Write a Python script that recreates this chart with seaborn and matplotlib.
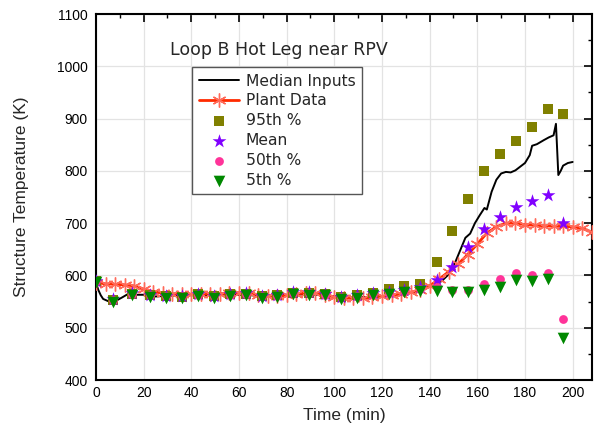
import matplotlib
matplotlib.use("Agg")
import matplotlib.pyplot as plt
import seaborn as sns
import numpy as np
from matplotlib.ticker import MultipleLocator

# ---------------- data ----------------
median_t = [0, 1, 2, 3, 5, 7, 9, 11, 14, 17, 20, 22, 26, 30, 35, 40, 50, 60, 70, 80, 90,
            100, 110, 120, 125, 130, 135, 140, 145, 148, 151, 153, 155, 157, 159, 161,
            163, 164, 166, 168, 170, 172, 174, 176, 178, 180, 182, 183, 185, 188, 190,
            192, 193, 194, 195, 196, 198, 200]
median_T = [586, 572, 562, 555, 551, 550, 553, 558, 566, 563, 563, 559, 560, 561, 562,
            562, 562, 563, 561, 563, 564, 560, 558, 560, 563, 566, 570, 578, 589, 602,
            628, 650, 672, 680, 700, 715, 729, 726, 760, 783, 795, 798, 797, 801, 808,
            815, 830, 848, 851, 859, 864, 868, 890, 792, 800, 810, 815, 817]

plant_t = list(range(0, 209, 4))
plant_T = [586, 584, 583, 582, 580, 574, 569, 566, 565, 564, 564, 564, 565, 565, 566,
           567, 566, 563, 561, 560, 562, 565, 566, 566, 563, 559, 557, 556, 556, 558,
           560, 562, 565, 568, 572, 580, 593, 607, 622, 640, 660, 681, 693, 700, 700,
           697, 696, 695, 694, 694, 693, 690, 683]

pct_t = [0, 7.0, 15.0, 22.8, 29.5, 36.1, 42.8, 49.5, 56.1, 62.8, 69.5, 76.1, 82.8, 89.5,
         96.1, 102.8, 109.4, 116.1, 122.8, 129.4, 136.1, 143.0, 149.5, 156.1, 162.8,
         169.5, 176.1, 182.8, 189.5, 196.1]
p95 = [590, 553, 565, 562, 560, 559, 564, 560, 564, 565, 560, 562, 567, 567, 564, 558,
       562, 567, 574, 580, 584, 625, 685, 747, 800, 832, 857, 884, 918, 908]
mean = [590, 554, 566, 563, 561, 561, 565, 561, 565, 566, 561, 563, 568, 568, 565, 559,
        562, 566, 568, 572, 578, 591, 617, 654, 688, 711, 731, 742, 754, 700]
p50 = [590, 553, 565, 562, 560, 560, 563, 560, 563, 564, 560, 561, 566, 566, 563, 558,
       561, 564, 566, 570, 574, 578, 573, 573, 584, 593, 605, 601, 605, 517]
p5 = [588, 550, 562, 559, 557, 556, 561, 557, 561, 562, 557, 559, 564, 563, 562, 555,
      556, 562, 564, 568, 571, 571, 569, 569, 573, 578, 591, 590, 593, 480]

x_ticks = list(range(0, 201, 20))
y_ticks = list(range(400, 1101, 100))

# ---------------- plot ----------------
sns.set_theme(style="white")
plt.rcParams['font.family'] = ['Liberation Sans', 'DejaVu Sans']

fig = plt.figure(figsize=(5.96, 4.36), dpi=100)
ax = fig.add_axes([96/596, 1 - 380/436, 495.7/596, 366/436])

sns.lineplot(x=median_t, y=median_T, ax=ax, color='black', lw=1.4,
             label='Median Inputs', zorder=3)
sns.lineplot(x=plant_t, y=plant_T, ax=ax, color='#ff2a00', lw=2.0,
             marker=(6, 2, 0), markersize=10, markeredgecolor='#ff6a5a',
             markeredgewidth=1.0, label='Plant Data', zorder=4)
sns.scatterplot(x=pct_t, y=p95, ax=ax, marker='s', s=50, color='#808000',
                linewidth=0, label='95th %', zorder=5)
sns.scatterplot(x=pct_t, y=mean, ax=ax, marker='*', s=110, color='#8000ff',
                linewidth=0, label='Mean', zorder=6)
sns.scatterplot(x=pct_t, y=p50, ax=ax, marker='o', s=40, color='#ff3399',
                linewidth=0, label='50th %', zorder=6)
sns.scatterplot(x=pct_t, y=p5, ax=ax, marker='v', s=70, color='#008800',
                linewidth=0, label='5th %', zorder=7)

ax.set_xlim(0, 208)
ax.set_ylim(400, 1100)
ax.set_xticks(x_ticks)
ax.set_yticks(y_ticks)
ax.xaxis.set_minor_locator(MultipleLocator(10))
ax.yaxis.set_minor_locator(MultipleLocator(50))
ax.grid(True, which='major', color='#e3e3e3', lw=0.9, zorder=0)
ax.set_axisbelow(True)
ax.tick_params(which='both', direction='in', top=True, right=True, colors='black',
               labelsize=10)
ax.tick_params(which='major', length=6, width=1.2)
ax.tick_params(which='minor', length=3, width=1.0)
ax.tick_params(axis='x', pad=4)
ax.tick_params(axis='y', pad=6)
for s in ax.spines.values():
    s.set_color('black')
    s.set_linewidth(1.5)

ax.set_xlabel('Time (min)', fontsize=12.5, labelpad=6)
ax.set_ylabel('Structure Temperature (K)', fontsize=12.5)
ax.yaxis.set_label_coords(-0.135, 0.5)

ax.text(31, 1031, 'Loop B Hot Leg near RPV', fontsize=12.5, family='DejaVu Sans',
        ha='left', va='center')

leg = ax.legend(loc='upper left', bbox_to_anchor=(0.1937, 0.855), borderaxespad=0,
                prop={'family': 'DejaVu Sans', 'size': 11.2}, frameon=True,
                fancybox=False, framealpha=1, edgecolor='#555555',
                handlelength=2.6, handletextpad=0.45, labelspacing=0.31,
                borderpad=0.42, markerscale=1.0)
leg.get_frame().set_linewidth(1.0)

fig.savefig('out.png', dpi=100)
